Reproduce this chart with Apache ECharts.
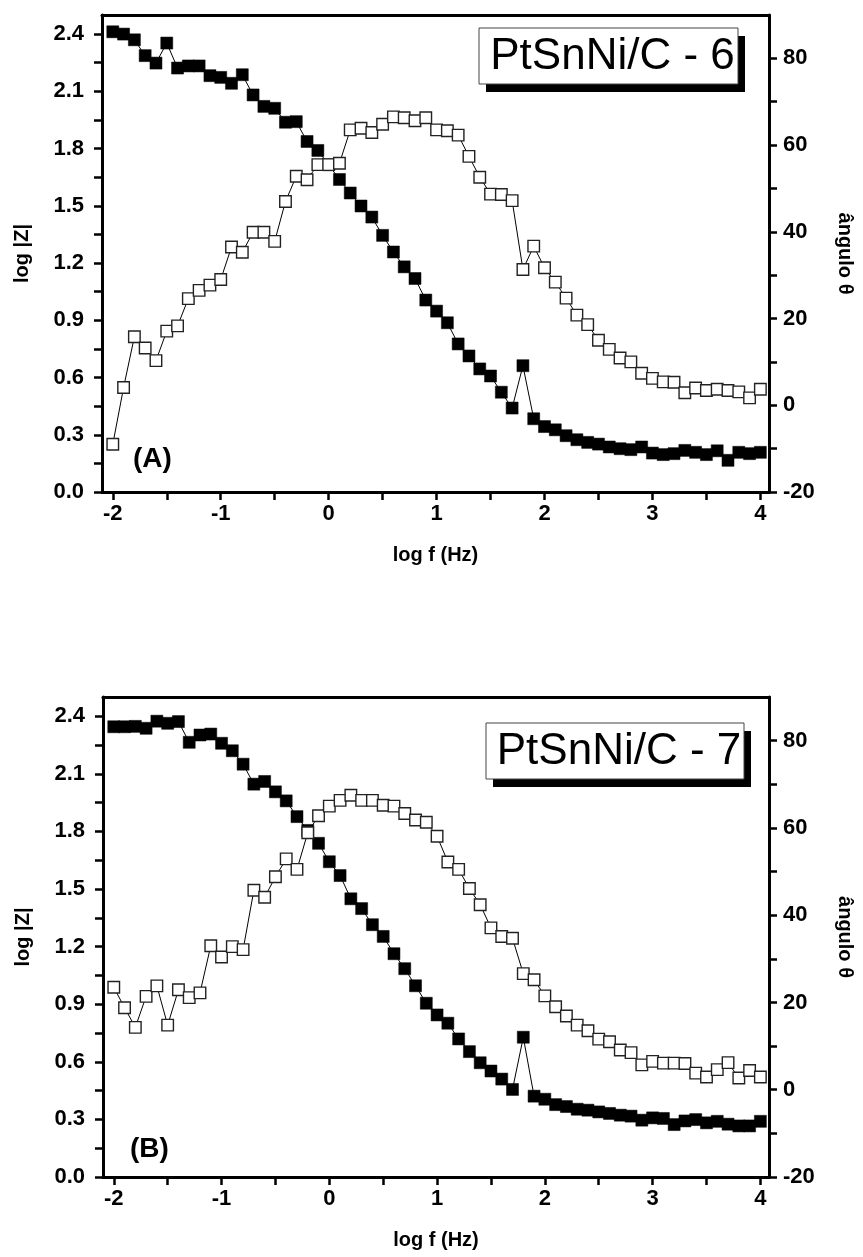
<!DOCTYPE html>
<html>
<head>
<meta charset="utf-8">
<script src="https://cdn.jsdelivr.net/npm/echarts@6/dist/echarts.min.js"></script>
<style>
html,body{margin:0;padding:0;background:#fff;}
#chart{width:863px;height:1257px;}
</style>
</head>
<body>
<div id="chart"></div>
<script>
// ---- data ----
const logF = [-2.0,-1.9,-1.8,-1.7,-1.6,-1.5,-1.4,-1.3,-1.2,-1.1,
  -1.0,-0.9,-0.8,-0.7,-0.6,-0.5,-0.4,-0.3,-0.2,-0.1,
  0.0,0.1,0.2,0.3,0.4,0.5,0.6,0.7,0.8,0.9,
  1.0,1.1,1.2,1.3,1.4,1.5,1.6,1.7,1.8,1.9,
  2.0,2.1,2.2,2.3,2.4,2.5,2.6,2.7,2.8,2.9,
  3.0,3.1,3.2,3.3,3.4,3.5,3.6,3.7,3.8,3.9,4.0];

const logZ_A = [2.412,2.400,2.370,2.287,2.248,2.353,2.222,2.233,2.233,2.182,
  2.173,2.142,2.187,2.081,2.021,2.011,1.938,1.941,1.837,1.790,
  1.715,1.638,1.567,1.499,1.441,1.345,1.258,1.180,1.119,1.006,
  0.948,0.887,0.776,0.713,0.645,0.608,0.523,0.440,0.662,0.384,
  0.343,0.326,0.295,0.274,0.260,0.251,0.236,0.227,0.222,0.236,
  0.204,0.196,0.201,0.218,0.208,0.196,0.216,0.166,0.208,0.201,0.208];

const theta_A = [-9.0,4.1,15.8,13.2,10.3,17.1,18.3,24.6,26.5,27.7,
  29.0,36.5,35.3,39.9,39.9,37.8,47.0,52.8,52.0,55.5,
  55.5,55.8,63.5,63.9,62.9,64.8,66.5,66.3,65.6,66.3,
  63.5,63.3,62.3,57.4,52.6,48.7,48.6,47.2,31.3,36.7,
  31.7,28.4,24.7,20.8,18.6,15.0,12.9,10.9,10.0,7.4,
  6.2,5.4,5.3,2.9,4.0,3.4,3.7,3.4,3.1,1.7,3.7];

const logZ_B = [2.345,2.345,2.347,2.337,2.374,2.363,2.372,2.264,2.302,2.307,
  2.259,2.220,2.150,2.046,2.060,2.006,1.959,1.877,1.805,1.738,
  1.642,1.570,1.449,1.398,1.314,1.253,1.163,1.085,0.996,0.905,
  0.844,0.801,0.719,0.653,0.595,0.552,0.510,0.456,0.728,0.421,
  0.405,0.377,0.367,0.353,0.348,0.339,0.331,0.322,0.317,0.296,
  0.308,0.305,0.273,0.292,0.299,0.282,0.290,0.275,0.266,0.266,0.290];

const theta_B = [23.5,18.8,14.3,21.4,23.8,14.8,22.9,21.1,22.2,33.0,
  30.4,32.8,32.1,45.7,44.1,48.8,52.9,50.5,58.9,62.8,
  65.0,66.3,67.5,66.3,66.3,65.2,65.0,63.3,61.8,61.3,
  58.1,52.2,50.5,46.1,42.4,37.1,35.1,34.7,26.6,25.2,
  21.5,19.0,16.9,14.8,13.5,11.6,11.0,9.1,8.5,5.7,
  6.5,6.1,6.1,6.0,3.8,2.9,4.6,6.2,2.7,4.4,2.9];

// ---- tick labels ----
const xTicks = [-2,-1.5,-1,-0.5,0,0.5,1,1.5,2,2.5,3,3.5,4];
const xLabels = [-2,-1,0,1,2,3,4];
const zTicks = [0,0.15,0.3,0.45,0.6,0.75,0.9,1.05,1.2,1.35,1.5,1.65,1.8,1.95,2.1,2.25,2.4];
const zLabels = [0,0.3,0.6,0.9,1.2,1.5,1.8,2.1,2.4];
const thTicks = [-20,-10,0,10,20,30,40,50,60,70,80];
const thLabels = [-20,0,20,40,60,80];

const sampleNames = ['PtSnNi/C - 6','PtSnNi/C - 7'];
const panelNames = ['(A)','(B)'];

// ---- chart ----
const FONT = '"Liberation Sans", Arial, sans-serif';
const chart = echarts.init(document.getElementById('chart'), null, {renderer:'canvas'});
const axisLine = {show:true, onZero:false, lineStyle:{color:'#000', width:3}};
const labelStyle = {color:'#000', fontFamily:FONT, fontWeight:'bold', fontSize:22};
const nameStyle = {color:'#000', fontFamily:FONT, fontWeight:'bold', fontSize:20};

function pairs(xs, ys){ return xs.map((x,i)=>[x, ys[i]]); }

const grids = [
  {left:102, top:15, width:668, height:477},
  {left:103, top:697, width:667, height:480}
];

const xAxes = [], yAxes = [], series = [];
grids.forEach((g, k) => {
  xAxes.push({
    gridIndex:k, type:'value', min:-2.1, max:4.08, position:'bottom',
    name:'log f (Hz)', nameLocation:'middle', nameGap:k===0?53:53, nameTextStyle:nameStyle,
    axisLine:axisLine, splitLine:{show:false},
    axisTick:{show:true, length:8, lineStyle:{color:'#000', width:2.5}, customValues:xTicks},
    axisLabel:{show:true, margin:11, customValues:xLabels, formatter:v=>String(v), ...labelStyle}
  });
  xAxes.push({
    gridIndex:k, type:'value', min:-2.1, max:4.08, position:'top',
    axisLine:axisLine, splitLine:{show:false}, axisTick:{show:false}, axisLabel:{show:false}
  });
  yAxes.push({
    gridIndex:k, type:'value', min:0, max:2.5, position:'left',
    name:'log |Z|', nameLocation:'middle', nameGap:70, nameTextStyle:nameStyle,
    axisLine:axisLine, splitLine:{show:false},
    axisTick:{show:true, length:8, lineStyle:{color:'#000', width:2.5}, customValues:zTicks},
    axisLabel:{show:true, margin:18, customValues:zLabels, formatter:v=>v.toFixed(1), ...labelStyle}
  });
  yAxes.push({
    gridIndex:k, type:'value', min:-20, max:90, position:'right',
    name:'ângulo θ', nameLocation:'middle', nameGap:66, nameRotate:-90, nameTextStyle:nameStyle,
    axisLine:axisLine, splitLine:{show:false},
    axisTick:{show:true, length:8, lineStyle:{color:'#000', width:2.5}, customValues:thTicks},
    axisLabel:{show:true, margin:14, customValues:thLabels, formatter:v=>String(v), ...labelStyle}
  });
});

const zSets = [logZ_A, logZ_B];
const thSets = [theta_A, theta_B];
for (let k=0;k<2;k++){
  series.push({
    type:'line', xAxisIndex:2*k, yAxisIndex:2*k, data:pairs(logF, zSets[k]),
    symbol:'rect', symbolSize:12, showAllSymbol:true,
    lineStyle:{color:'#000', width:1}, itemStyle:{color:'#000', borderColor:'#000', borderWidth:0.5},
    z:2
  });
  series.push({
    type:'line', xAxisIndex:2*k+1, yAxisIndex:2*k+1, data:pairs(logF, thSets[k]),
    symbol:'rect', symbolSize:11.5, showAllSymbol:true,
    lineStyle:{color:'#000', width:1}, itemStyle:{color:'#fff', borderColor:'#222', borderWidth:1.4},
    z:3
  });
}

function box(x, y, w, h, text){
  return {
    type:'group', children:[
      {type:'rect', shape:{x:x+7, y:y+8, width:w, height:h}, style:{fill:'#000'}},
      {type:'rect', shape:{x:x, y:y, width:w, height:h}, style:{fill:'#fff', stroke:'#444', lineWidth:1}},
      {type:'text', style:{x:x+w/2+4, y:y+h/2+1, text:text, fill:'#000', font:'44px "Liberation Sans", Arial, sans-serif', align:'center', verticalAlign:'middle'}}
    ]
  };
}

chart.setOption({
  animation:false,
  backgroundColor:'#fff',
  grid:grids,
  xAxis:xAxes,
  yAxis:yAxes,
  series:series,
  graphic:[
    box(479, 28, 259, 56, sampleNames[0]),
    box(486, 723, 258, 56, sampleNames[1]),
    {type:'text', style:{x:133, y:459, text:panelNames[0], fill:'#000', font:'bold 28px "Liberation Sans", Arial, sans-serif', verticalAlign:'middle'}},
    {type:'text', style:{x:130, y:1149, text:panelNames[1], fill:'#000', font:'bold 28px "Liberation Sans", Arial, sans-serif', verticalAlign:'middle'}}
  ]
});
</script>
</body>
</html>
